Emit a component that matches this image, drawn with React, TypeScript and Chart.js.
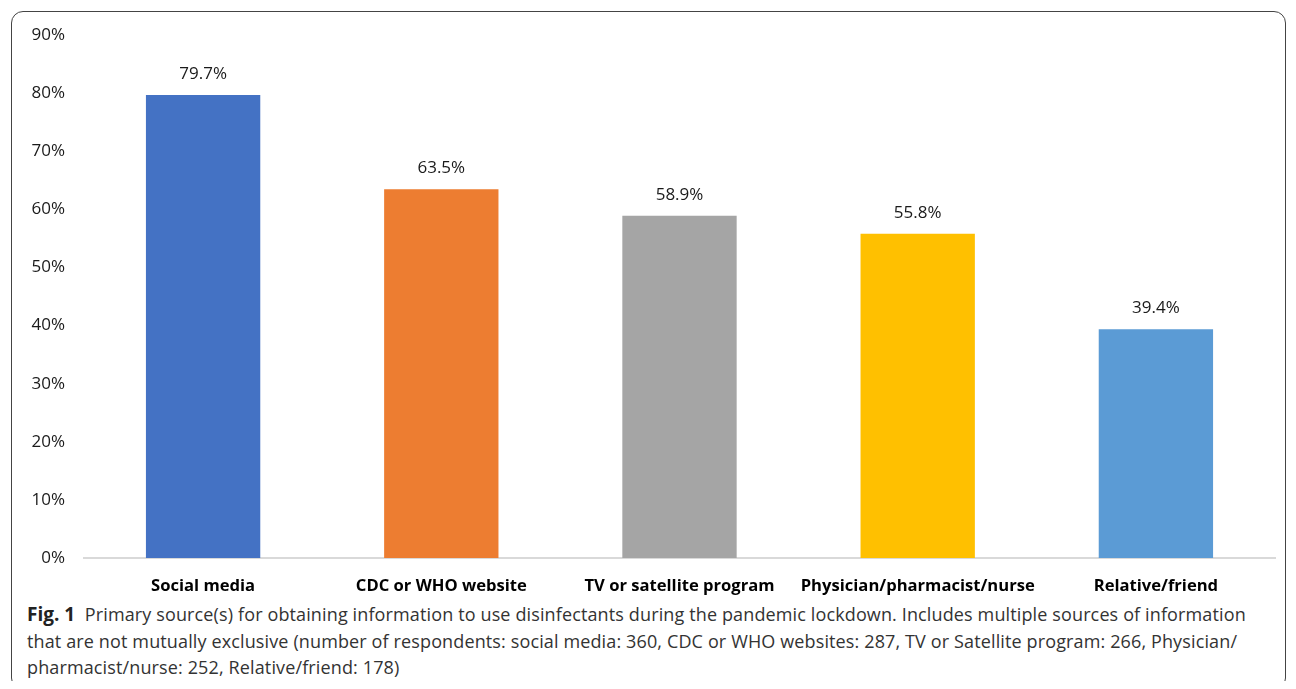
import React, { useEffect, useRef } from "react";
import { Chart, registerables } from "chart.js";

Chart.register(...registerables);

const categories = [
  "Social media",
  "CDC or WHO website",
  "TV or satellite program",
  "Physician/pharmacist/nurse",
  "Relative/friend",
];
const percentValues = [79.7, 63.5, 58.9, 55.8, 39.4];
const barColors = ["#4472C4", "#ED7D31", "#A5A5A5", "#FFC000", "#5B9BD5"];
const yMax = 90;
const yStep = 10;

const FONT = "'Open Sans', 'Noto Sans', sans-serif";

// Writes each bar's value above its top edge
const valueLabels = {
  id: "valueLabels",
  afterDatasetsDraw(chart: any) {
    const ctx = chart.ctx;
    const meta = chart.getDatasetMeta(0);
    ctx.save();
    ctx.font = "17px " + FONT;
    ctx.fillStyle = "#1a1a1a";
    ctx.textAlign = "center";
    ctx.textBaseline = "middle";
    meta.data.forEach((bar: any, i: number) => {
      const v = Number(chart.data.datasets[0].data[i]);
      ctx.fillText(v.toFixed(1) + "%", bar.x, bar.y - 21);
    });
    ctx.restore();
  },
};

function BarChart() {
  const ref = useRef<HTMLCanvasElement | null>(null);

  useEffect(() => {
    if (!ref.current) return;
    const chart = new Chart(ref.current, {
      type: "bar",
      data: {
        labels: categories,
        datasets: [
          {
            data: percentValues,
            backgroundColor: barColors,
            categoryPercentage: 1,
            barPercentage: 0.48,
          },
        ],
      },
      options: {
        responsive: false,
        animation: false,
        devicePixelRatio: 1,
        layout: { padding: { top: 0, right: 10, left: 0, bottom: 0 } },
        plugins: {
          legend: { display: false },
          tooltip: { enabled: false },
        },
        scales: {
          x: {
            grid: { display: false, drawTicks: false },
            border: { display: true, color: "#d9d9d9", width: 2 },
            ticks: {
              padding: 18,
              color: "#000",
              font: { family: FONT, size: 16.6, weight: "bold" },
              maxRotation: 0,
              autoSkip: false,
            },
            afterFit: (scale: any) => {
              scale.height = 42;
            },
          },
          y: {
            min: 0,
            max: yMax,
            grid: { display: false, drawTicks: false },
            border: { display: false },
            ticks: {
              stepSize: yStep,
              padding: 19,
              color: "#1a1a1a",
              font: { family: FONT, size: 17 },
              callback: (v: any) => v + "%",
            },
            afterFit: (scale: any) => {
              scale.width = 72;
            },
          },
        },
      },
      plugins: [valueLabels],
    } as any);
    return () => chart.destroy();
  }, []);

  return (
    <canvas
      ref={ref}
      width={1273}
      height={594}
      style={{ position: "absolute", left: 0, top: -6, width: 1273, height: 594 }}
    />
  );
}

export default function App() {
  const lineStyle = {
    whiteSpace: "nowrap" as const,
    height: 26.5,
    lineHeight: "26.5px",
  };
  return (
    <div
      style={{
        position: "relative",
        left: -8,
        top: -8,
        width: 1296,
        height: 689,
        marginBottom: -16,
        overflow: "hidden",
      }}
    >
      <div
        style={{
          position: "absolute",
          left: 11,
          top: 11,
          width: 1275,
          height: 679,
          boxSizing: "border-box",
          border: "1px solid #444",
          borderRadius: 12,
          background: "#fff",
        }}
      >
        <BarChart />
        <div
          style={{
            position: "absolute",
            left: 15,
            top: 589,
            fontFamily: FONT,
            fontSize: 18,
            letterSpacing: 0.13,
            color: "#333",
          }}
        >
          <div style={lineStyle}>
            <span style={{ fontWeight: "bold", fontSize: 19, color: "#222", letterSpacing: 0 }}>Fig. 1</span>
            {"\u00a0\u00a0Primary source(s) for obtaining information to use disinfectants during the pandemic lockdown. Includes multiple sources of information"}
          </div>
          <div style={lineStyle}>
            that are not mutually exclusive (number of respondents: social media: 360, CDC or WHO websites: 287, TV or Satellite program: 266, Physician/
          </div>
          <div style={lineStyle}>pharmacist/nurse: 252, Relative/friend: 178)</div>
        </div>
      </div>
    </div>
  );
}
